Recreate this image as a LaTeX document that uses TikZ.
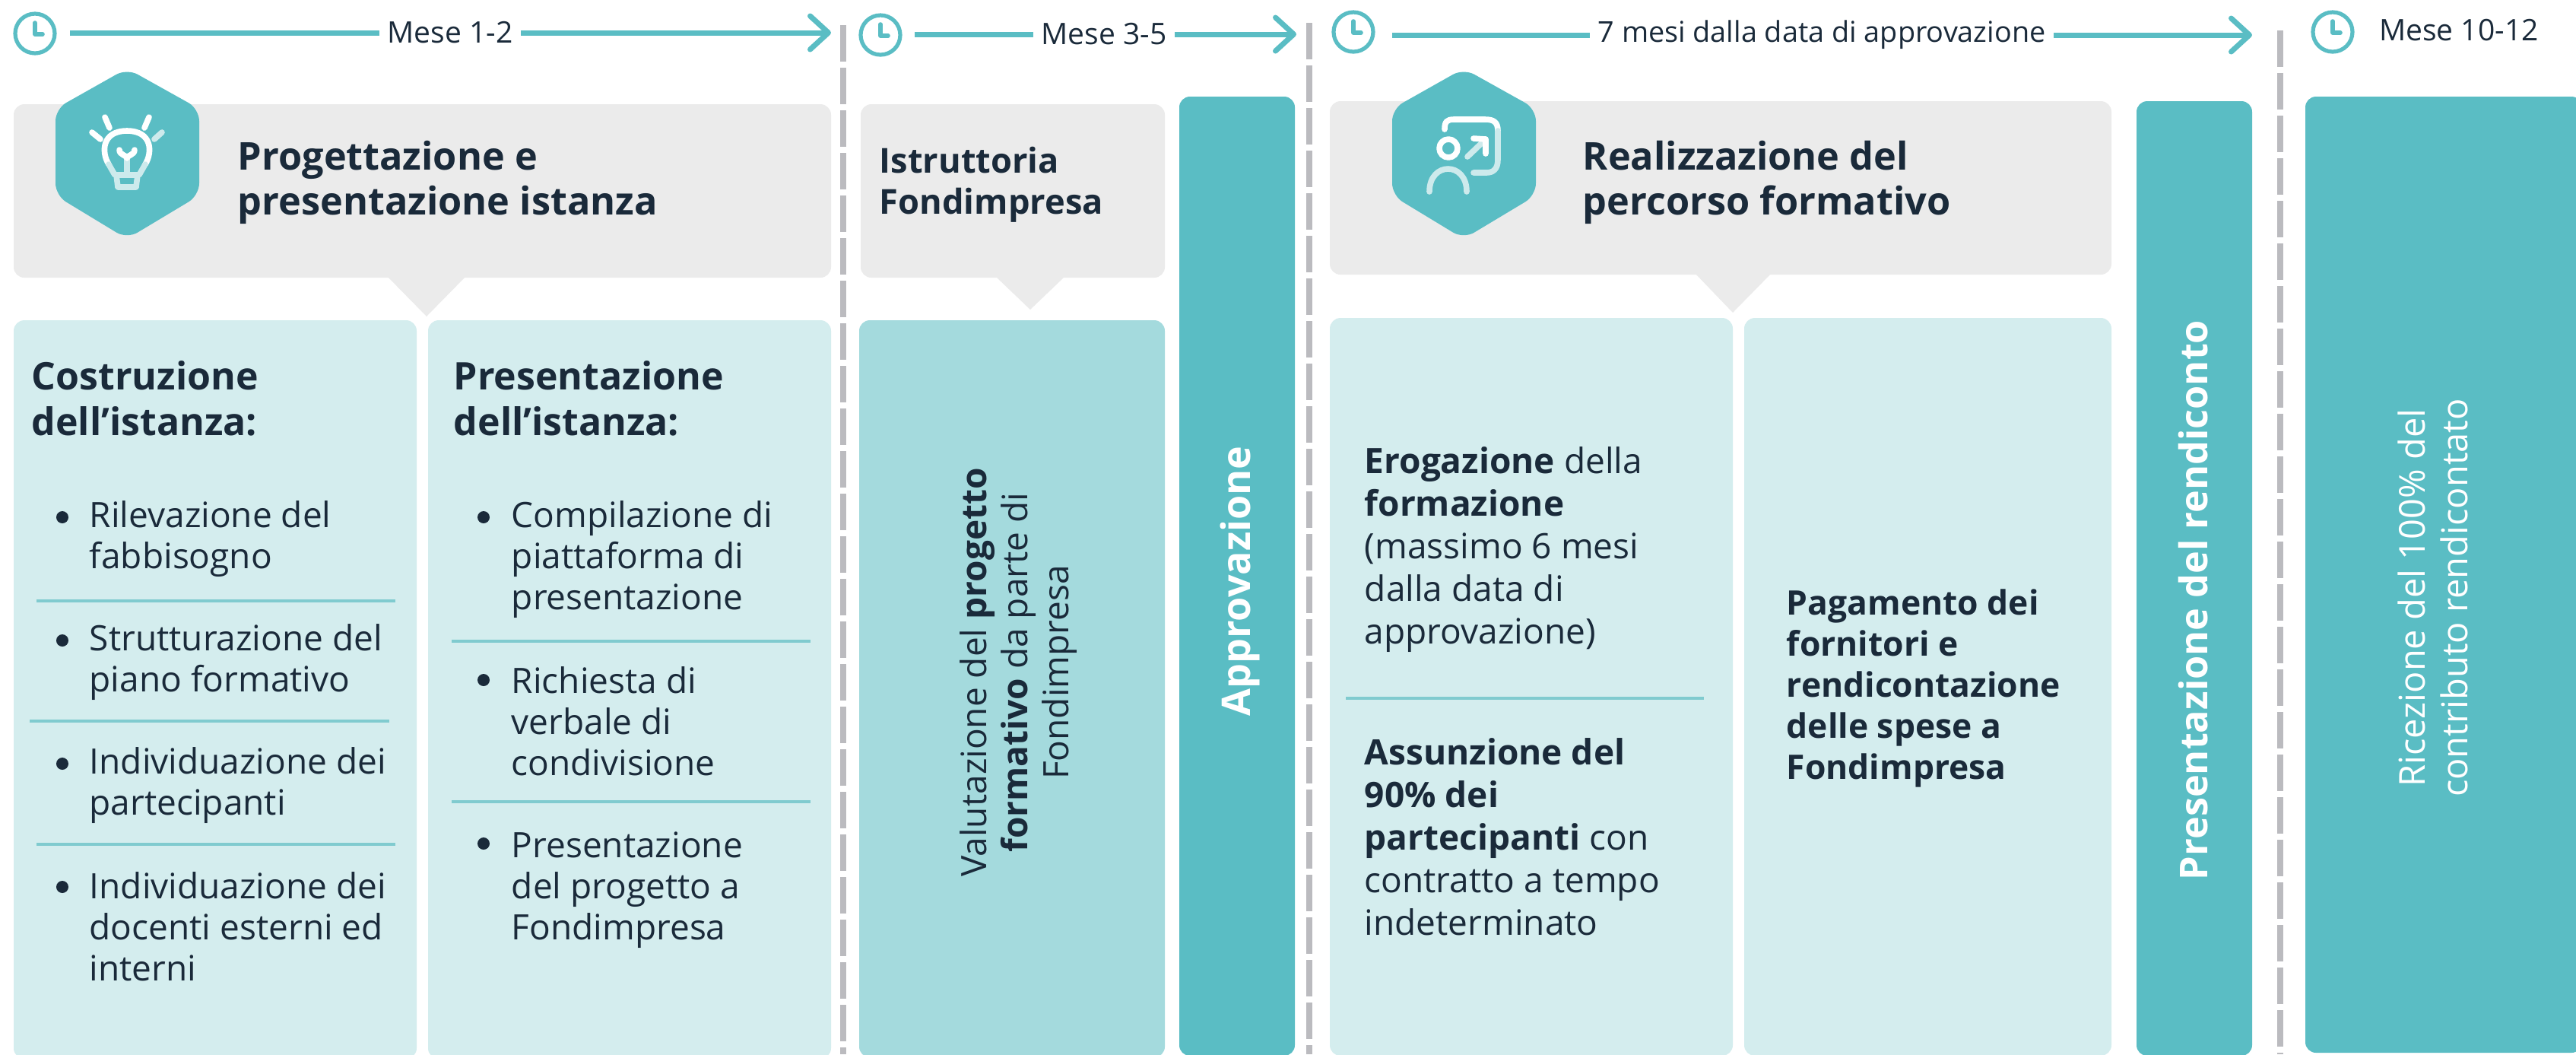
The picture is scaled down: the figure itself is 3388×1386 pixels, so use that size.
\documentclass[tikz,border=0pt]{standalone}
\usepackage{fontspec}
\setmainfont{Open Sans}
\usetikzlibrary{arrows.meta}
\definecolor{teal}{HTML}{5ABDC4}
\definecolor{palet}{HTML}{D4EDEE}
\definecolor{midt}{HTML}{A4DADD}
\definecolor{graybox}{HTML}{EBEBEB}
\definecolor{dashg}{HTML}{BBBBBF}
\definecolor{ink}{HTML}{1A2A3A}
\definecolor{palestroke}{HTML}{CDEAEC}
\definecolor{rulec}{HTML}{80CBCF}
\tikzset{
  x=0.25pt,y=-0.25pt,
  graypanel/.style={fill=graybox,rounded corners=3.5pt},
  palepanel/.style={fill=palet,rounded corners=3.5pt},
  midpanel/.style={fill=midt,rounded corners=3.5pt},
  tealpanel/.style={fill=teal,rounded corners=3.5pt},
  hexa/.style={fill=teal,rounded corners=4pt},
  vdash/.style={draw=dashg,line width=2.1pt,dash pattern=on 12pt off 2pt},
  rule/.style={draw=rulec,line width=1pt},
  timeline/.style={draw=teal,line width=1.75pt},
  tl/.style={timeline,-{Straight Barb[length=6pt,width=11pt,line width=1.75pt,round]}},
  ring/.style={draw=teal,line width=1.3pt},
  hand/.style={draw=teal,line width=1.4pt,line cap=round,line join=round},
  date/.style={font=\fontsize{9.75pt}{11pt}\selectfont,text=ink,inner sep=0pt,fill=white},
  datelong/.style={date,font=\fontsize{9.45pt}{11pt}\selectfont},
  head/.style={font=\fontsize{12.6pt}{14.7pt}\selectfont\bfseries,text=ink,inner sep=0pt,anchor=west,align=left},
  headsm/.style={font=\fontsize{11.3pt}{13.5pt}\selectfont\bfseries,text=ink,inner sep=0pt,anchor=west,align=left},
  body/.style={font=\fontsize{11.5pt}{13.5pt}\selectfont,text=ink,inner sep=0pt,anchor=west,align=left},
  bodywide/.style={font=\fontsize{11.5pt}{14pt}\selectfont,text=ink,inner sep=0pt,anchor=west,align=left},
  sub/.style={font=\fontsize{12.5pt}{15pt}\selectfont\bfseries,text=ink,inner sep=0pt,anchor=west,align=left},
  vbody/.style={font=\fontsize{11.5pt}{13.5pt}\selectfont,inner sep=0pt,rotate=90,align=center},
  vlight/.style={font=\fontsize{11.75pt}{14pt}\selectfont,inner sep=0pt,rotate=90,align=center},
  vhead/.style={font=\fontsize{13pt}{16pt}\selectfont\bfseries,text=white,inner sep=0pt,rotate=90,align=center},
  ico/.style={draw=white,line width=1.9pt,line cap=round,line join=round},
  icop/.style={draw=palestroke,line width=1.9pt,line cap=round,line join=round},
}
\newcommand\clockat[2]{%
  \draw[ring] (#1,#2) circle[radius=26];
  \draw[hand] (#1,#2-14) -- (#1,#2+1) -- (#1+10,#2+1);}
\newcommand\bulletat[2]{\fill[ink] (#1,#2) circle[radius=8];}
\begin{document}
\begin{tikzpicture}
\useasboundingbox (0,0) rectangle (3388,1386);
\fill[white] (0,0) rectangle (3388,1386);
% dividers
\draw[vdash] (1109,33) -- (1109,1386);
\draw[vdash] (1722,30) -- (1722,1386);
\draw[vdash] (2999,40) -- (2999,1386);
% clocks
\clockat{46}{44}\clockat{1158}{46}\clockat{1780}{42}\clockat{3068}{42}
% timelines
\coordinate (s1) at (92,43); \coordinate (e1) at (1093,43);
\node[date] (d1) at (592,43) {Mese 1-2};
\draw[timeline] (s1) -- ([xshift=-2.5pt]s1 -| d1.west);
\draw[tl] ([xshift=2.5pt]e1 -| d1.east) -- (e1);
\coordinate (s2) at (1203,45); \coordinate (e2) at (1705,45);
\node[date] (d2) at (1452,45) {Mese 3-5};
\draw[timeline] (s2) -- ([xshift=-2.5pt]s2 -| d2.west);
\draw[tl] ([xshift=2.5pt]e2 -| d2.east) -- (e2);
\coordinate (s3) at (1831,46); \coordinate (e3) at (2962,46);
\node[datelong] (d3) at (2396,46) {7 mesi dalla data di approvazione};
\draw[timeline] (s3) -- ([xshift=-2.5pt]s3 -| d3.west);
\draw[tl] ([xshift=2.5pt]e3 -| d3.east) -- (e3);
\node[date] (d4) at (3234,40) {Mese 10-12};
% grey panels
\fill[graypanel] (18,137) rectangle (1093,365);
\fill[graybox] (510,364) -- (561,416) -- (612,364) -- cycle;
\fill[graypanel] (1132,137) rectangle (1532,365);
\fill[graybox] (1310,364) -- (1355,407) -- (1400,364) -- cycle;
\fill[graypanel] (1749,133) rectangle (2777,361);
\fill[graybox] (2230,360) -- (2279,411) -- (2329,360) -- cycle;
% content panels
\fill[palepanel] (18,421) rectangle (548,1392);
\fill[palepanel] (563,421) rectangle (1093,1392);
\fill[midpanel] (1130,421) rectangle (1532,1390);
\fill[tealpanel] (1551,127) rectangle (1703,1388);
\fill[palepanel] (1749,418) rectangle (2279,1388);
\fill[palepanel] (2294,418) rectangle (2777,1388);
\fill[tealpanel] (2810,133) rectangle (2962,1388);
\fill[tealpanel] (3032,127) rectangle (3396,1384);
% hexagons
\fill[hexa] (167,90) -- (262,143) -- (262,257) -- (167,314) -- (73,257) -- (73,143) -- cycle;
\fill[hexa] (1925,90) -- (2020,143) -- (2020,257) -- (1925,314) -- (1831,257) -- (1831,143) -- cycle;
% bulb
\draw[ico] (138,154) -- (144,168);
\draw[ico] (196,154) -- (190,168);
\draw[ico] (121,174) -- (132,183);
\draw[icop] (213,174) -- (203,183);
\draw[ico] (143,216) .. controls (133,200) and (134,172) .. (167,172) .. controls (200,172) and (201,200) .. (191,216);
\draw[icop] (143,216) -- (151,230) -- (183,230) -- (191,216);
\draw[icop] (153,230) -- (155,246) -- (179,246) -- (181,230);
\draw[icop] (167,228) -- (167,208);
\draw[ico] (157,197) .. controls (157,204) and (167,204) .. (167,208) .. controls (167,204) and (177,204) .. (177,197);
% person / board
\draw[ico] (1905,195) circle[radius=12];
\draw[icop] (1880,252) .. controls (1880,212) and (1929,212) .. (1929,252);
\draw[ico] (1900,170) .. controls (1900,160) and (1903,157) .. (1912,157) -- (1953,157) .. controls (1964,157) and (1970,160) .. (1970,172);
\draw[icop] (1970,172) -- (1970,210) .. controls (1970,222) and (1964,227) .. (1955,227) -- (1938,227);
\draw[icop] (1930,206) -- (1954,183);
\draw[ico] (1938,182) -- (1954,183) -- (1954,202);
% rules
\draw[rule] (48,790) -- (520,790);
\draw[rule] (39,948) -- (512,948);
\draw[rule] (48,1110) -- (520,1110);
\draw[rule] (594,843) -- (1066,843);
\draw[rule] (594,1054) -- (1066,1054);
\draw[rule] (1770,918) -- (2241,918);
% heads
\node[head] (h1) at (312,240) {Progettazione e\\presentazione istanza};
\node[headsm] (h2) at (1156,243) {Istruttoria\\Fondimpresa};
\node[head] (h3) at (2081,240) {Realizzazione del\\percorso formativo};
\node[sub] (c1) at (41,524) {Costruzione\\dell’istanza:};
\node[sub] (c2) at (596,524) {Presentazione\\dell’istanza:};
% column 1
\bulletat{82}{680}\bulletat{82}{842}\bulletat{82}{1004}\bulletat{82}{1166}
\node[body] (a1) at (117,709) {Rilevazione del\\fabbisogno};
\node[body] (a2) at (117,871) {Strutturazione del\\piano formativo};
\node[body] (a3) at (117,1033) {Individuazione dei\\partecipanti};
\node[body] (a4) at (117,1218) {Individuazione dei\\docenti esterni ed\\interni};
% column 2
\bulletat{636}{680}\bulletat{636}{894}\bulletat{636}{1109}
\node[body] (b1) at (672,736) {Compilazione di\\piattaforma di\\presentazione};
\node[body] (b2) at (672,948) {Richiesta di\\verbale di\\condivisione};
\node[body] (b3) at (672,1170) {Presentazione\\del progetto a\\Fondimpresa};
% rotated
\node[vbody,text=ink] (v1) at (1340,884) {Valutazione del \textbf{progetto}\\\textbf{formativo} da parte di\\Fondimpresa};
\node[vhead] (v2) at (1631,764) {Approvazione};
\node[vhead,font=\fontsize{12.6pt}{16pt}\selectfont\bfseries] (v3) at (2885,789) {Presentazione del rendiconto};
\node[vlight,text=white] (v4) at (3200,786) {Ricezione del 100\% del\\contributo rendicontato};
% realisation
\node[bodywide] (r1) at (1794,723) {\textbf{Erogazione} della\\\textbf{formazione}\\(massimo 6 mesi\\dalla data di\\approvazione)};
\node[bodywide] (r2) at (1794,1100) {\textbf{Assunzione del}\\\textbf{90\% dei}\\\textbf{partecipanti} con\\contratto a tempo\\indeterminato};
\node[body,font=\fontsize{11.1pt}{13.5pt}\selectfont\bfseries] (r3) at (2349,905) {Pagamento dei\\fornitori e\\rendicontazione\\delle spese a\\Fondimpresa};
\end{tikzpicture}
\end{document}
